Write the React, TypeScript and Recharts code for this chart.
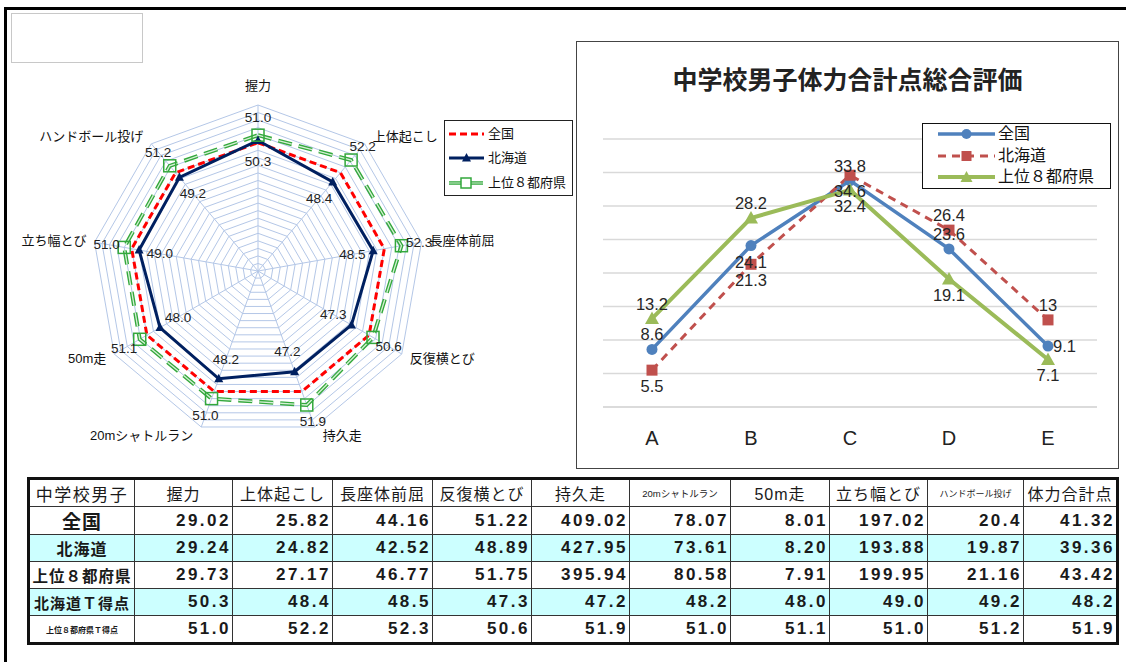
import React from 'react'
import {
  RadarChart,
  Radar,
  PolarGrid,
  PolarAngleAxis,
  PolarRadiusAxis,
  LineChart,
  Line,
  XAxis,
  YAxis,
  CartesianGrid,
} from 'recharts'

const FONT = '"Liberation Sans", "Noto Sans CJK JP", sans-serif'

// 種目
const events = ['握力', '上体起こし', '長座体前屈', '反復横とび', '持久走', '20mシャトルラン', '50m走', '立ち幅とび', 'ハンドボール投げ']
const totalColumn = '体力合計点'

// 実測値（表）
const zenkokuRaw = ['29.02', '25.82', '44.16', '51.22', '409.02', '78.07', '8.01', '197.02', '20.4', '41.32']
const hokkaidoRaw = ['29.24', '24.82', '42.52', '48.89', '427.95', '73.61', '8.20', '193.88', '19.87', '39.36']
const top8Raw = ['29.73', '27.17', '46.77', '51.75', '395.94', '80.58', '7.91', '199.95', '21.16', '43.42']

// T得点（全国=50）
const zenkokuT = [50, 50, 50, 50, 50, 50, 50, 50, 50]
const hokkaidoT = [50.3, 48.4, 48.5, 47.3, 47.2, 48.2, 48.0, 49.0, 49.2, 48.2]
const top8T = [51.0, 52.2, 52.3, 50.6, 51.9, 51.0, 51.1, 51.0, 51.2, 51.9]

// 総合評価 A〜E の割合
const grades = ['A', 'B', 'C', 'D', 'E']
const gradeZenkoku = [8.6, 24.1, 33.8, 23.6, 9.1]
const gradeHokkaido = [5.5, 21.3, 34.6, 26.4, 13]
const gradeTop8 = [13.2, 28.2, 32.4, 19.1, 7.1]
const gradeTicks = [0, 5, 10, 15, 20, 25, 30, 35, 40]

// データラベルの位置（上/下/右）
const placeZenkoku = ['top', 'bottom', 'top', 'top', 'right']
const placeHokkaido = ['bottom', 'bottom', 'bottom', 'top', 'top']
const placeTop8 = ['top', 'top', 'bottom', 'bottom', 'bottom']

const radarData = events.map((name, i) => ({
  name,
  zenkoku: zenkokuT[i],
  hokkaido: hokkaidoT[i],
  top8: top8T[i],
}))

const lineData = grades.map((grade, i) => ({
  grade,
  zenkoku: gradeZenkoku[i],
  hokkaido: gradeHokkaido[i],
  top8: gradeTop8[i],
}))

const RCX = 258
const RCY = 200
const RR = 166

const RED = '#ff0000'
const NAVY = '#002060'
const GREEN = '#33a83c'
const BLUE = '#4f81bd'
const BRICK = '#c0504d'
const OLIVE = '#9bbb59'

function radarLabel(offset: number) {
  return (p: any) => {
    const x = p.x ?? p.viewBox?.x
    const y = p.y ?? p.viewBox?.y
    const dx = x - RCX
    const dy = y - RCY
    const len = Math.hypot(dx, dy) || 1
    return (
      <text
        key={`rl-${p.index}`}
        x={x + (dx / len) * offset}
        y={y + (dy / len) * offset}
        textAnchor="middle"
        dominantBaseline="central"
        fontSize={13.5}
        fill="#222"
        fontFamily={FONT}
      >
        {Number(p.value).toFixed(1)}
      </text>
    )
  }
}

function AngleTick(p: any) {
  const dx = p.x - RCX
  const dy = p.y - RCY
  const len = Math.hypot(dx, dy) || 1
  const ux = dx / len
  const uy = dy / len
  const ex = RCX + ux * RR
  const ey = RCY + uy * RR
  const mid = Math.abs(ux) < 0.1
  const anchor = mid ? 'middle' : ux > 0 ? 'start' : 'end'
  const lx = mid ? ex : ex + Math.sign(ux) * 8
  const ly = ey + uy * (mid ? 20 : 9)
  return (
    <text x={lx} y={ly} textAnchor={anchor} dominantBaseline="central" fontSize={13} fill="#111" fontFamily={FONT}>
      {p.payload.value}
    </text>
  )
}

const navyTriangle = (p: any) => (
  <polygon
    key={`nt-${p.index}`}
    points={`${p.cx},${p.cy - 5} ${p.cx - 4.5},${p.cy + 3.5} ${p.cx + 4.5},${p.cy + 3.5}`}
    fill={NAVY}
  />
)

const greenSquare = (p: any) => (
  <rect key={`gs-${p.index}`} x={p.cx - 6} y={p.cy - 6} width={12} height={12} fill="none" stroke={GREEN} strokeWidth={1.5} />
)

function lineLabel(places: string[]) {
  return (p: any) => {
    const place = places[p.index]
    let lx = p.x
    let ly = p.y
    let anchor = 'middle'
    if (place === 'top') ly = p.y - 15
    else if (place === 'bottom') ly = p.y + 16
    else {
      lx = p.x + 5
      anchor = 'start'
    }
    return (
      <text
        key={`ll-${p.index}`}
        x={lx}
        y={ly}
        textAnchor={anchor}
        dominantBaseline="central"
        fontSize={16.5}
        fill="#262626"
        fontFamily={FONT}
      >
        {p.value}
      </text>
    )
  }
}

const circleDot = (p: any) => <circle key={`cd-${p.index}`} cx={p.cx} cy={p.cy} r={5.5} fill={BLUE} />
const squareDot = (p: any) => <rect key={`sd-${p.index}`} x={p.cx - 5.5} y={p.cy - 5.5} width={11} height={11} fill={BRICK} />
const triangleDot = (p: any) => (
  <polygon key={`td-${p.index}`} points={`${p.cx},${p.cy - 7} ${p.cx - 7},${p.cy + 5.5} ${p.cx + 7},${p.cy + 5.5}`} fill={OLIVE} />
)

function RadarLegend() {
  const row = (y: number) => ({ position: 'absolute' as const, left: 43, top: y - 9, fontSize: 13, lineHeight: '18px', color: '#111' })
  return (
    <div style={{ position: 'absolute', left: 444, top: 120, width: 127, height: 74, border: '1px solid #222', background: '#fff' }}>
      <svg width={42} height={74} style={{ position: 'absolute', left: 0, top: 0 }}>
        <line x1={4} y1={13} x2={39} y2={13} stroke={RED} strokeWidth={3} strokeDasharray="7 4" />
        <line x1={4} y1={37} x2={39} y2={37} stroke={NAVY} strokeWidth={3} />
        <polygon points="21.5,32 17,40.5 26,40.5" fill={NAVY} />
        <line x1={4} y1={62} x2={39} y2={62} stroke={GREEN} strokeWidth={3.5} strokeDasharray="14 6" />
        <line x1={4} y1={62} x2={39} y2={62} stroke="#d6f0d6" strokeWidth={1.2} strokeDasharray="14 6" />
        <rect x={16} y={57} width={10} height={10} fill="#fff" stroke={GREEN} strokeWidth={1.5} />
      </svg>
      <div style={row(13)}>全国</div>
      <div style={row(37)}>北海道</div>
      <div style={row(62)}>上位８都府県</div>
    </div>
  )
}

function GradeLegend() {
  const row = (y: number) => ({ position: 'absolute' as const, left: 75, top: y - 11, fontSize: 16, lineHeight: '22px', color: '#111' })
  return (
    <div style={{ position: 'absolute', left: 922, top: 123, width: 187, height: 64, border: '1.5px solid #111', background: '#fff' }}>
      <svg width={76} height={64} style={{ position: 'absolute', left: 0, top: 0 }}>
        <line x1={15} y1={10} x2={72} y2={10} stroke={BLUE} strokeWidth={3.5} />
        <circle cx={43.5} cy={10} r={5} fill={BLUE} />
        <line x1={15} y1={32} x2={72} y2={32} stroke={BRICK} strokeWidth={3} strokeDasharray="8 6" />
        <rect x={38.5} y={27} width={10} height={10} fill={BRICK} />
        <line x1={15} y1={53} x2={72} y2={53} stroke={OLIVE} strokeWidth={4} />
        <polygon points="43.5,47 37.5,58 49.5,58" fill={OLIVE} />
      </svg>
      <div style={row(10)}>全国</div>
      <div style={row(32)}>北海道</div>
      <div style={row(53)}>上位８都府県</div>
    </div>
  )
}

const colWidths = [106, 98, 100, 100, 99, 98, 101, 99, 98, 96, 94]

function ScoreTable() {
  const headers = [...events, totalColumn]
  const headerSize = (h: string) => (h === '20mシャトルラン' ? 9.5 : h === 'ハンドボール投げ' ? 9 : 16)
  const rows = [
    { name: '全国', size: 19, cyan: false, cells: zenkokuRaw },
    { name: '北海道', size: 16, cyan: true, cells: hokkaidoRaw },
    { name: '上位８都府県', size: 15.5, cyan: false, cells: top8Raw },
    { name: '北海道Ｔ得点', size: 15, cyan: true, cells: hokkaidoT.map((v) => v.toFixed(1)) },
    { name: '上位８都府県Ｔ得点', size: 8, cyan: false, cells: top8T.map((v) => v.toFixed(1)) },
  ]
  const cell = { border: '1px solid #333', padding: 0, height: 26, overflow: 'hidden', whiteSpace: 'nowrap' as const }
  return (
    <table
      style={{
        position: 'absolute',
        left: 27,
        top: 477,
        width: 1091,
        tableLayout: 'fixed',
        borderCollapse: 'collapse',
        border: '3px solid #111',
        fontFamily: FONT,
        color: '#1a1a1a',
      }}
    >
      <colgroup>
        {colWidths.map((w, i) => (
          <col key={i} style={{ width: w }} />
        ))}
      </colgroup>
      <tbody>
        <tr>
          <td style={{ ...cell, textAlign: 'center', fontSize: 17, letterSpacing: 1.5 }}>中学校男子</td>
          {headers.map((h) => (
            <td key={h} style={{ ...cell, textAlign: 'center', fontSize: headerSize(h), letterSpacing: headerSize(h) > 10 ? 1 : 0 }}>
              {h}
            </td>
          ))}
        </tr>
        {rows.map((r) => (
          <tr key={r.name} style={{ background: r.cyan ? '#ccffff' : '#fff' }}>
            <td style={{ ...cell, textAlign: 'center', fontSize: r.size, fontWeight: 700, letterSpacing: r.size > 10 ? 1 : 0 }}>
              {r.name}
            </td>
            {r.cells.map((v, i) => (
              <td key={i} style={{ ...cell, textAlign: 'right', fontSize: 17, fontWeight: 700, letterSpacing: 2.5, paddingRight: 1 }}>
                {v}
              </td>
            ))}
          </tr>
        ))}
      </tbody>
    </table>
  )
}

export default function App() {
  return (
    <div style={{ position: 'absolute', left: 0, top: 0, width: 1126, height: 662, background: '#fff', fontFamily: FONT, overflow: 'hidden' }}>
      {/* 外枠 */}
      <div
        style={{
          position: 'absolute',
          left: 4,
          top: 7,
          width: 1119,
          height: 660,
          borderTop: '3px solid #000',
          borderLeft: '3px solid #000',
          borderRight: '1px solid #888',
        }}
      />
      <div style={{ position: 'absolute', left: 11, top: 13, width: 130, height: 48, border: '1px solid #c8c8c8' }} />

      {/* T得点レーダー */}
      <div style={{ position: 'absolute', left: 0, top: 71 }}>
        <RadarChart width={560} height={400} data={radarData} cx={RCX} cy={RCY} outerRadius={RR} margin={{ top: 0, right: 0, bottom: 0, left: 0 }}>
          <PolarGrid gridType="polygon" stroke="#b4c7e7" strokeWidth={1} />
          <PolarRadiusAxis domain={[33, 55]} tickCount={23} tick={false} axisLine={false} />
          <PolarAngleAxis dataKey="name" tick={AngleTick} tickLine={false} axisLine={false} />
          <Radar dataKey="zenkoku" stroke={RED} strokeWidth={3} strokeDasharray="7 4" fill="none" dot={false} isAnimationActive={false} />
          <Radar
            dataKey="hokkaido"
            stroke={NAVY}
            strokeWidth={3}
            fill="none"
            dot={navyTriangle}
            label={radarLabel(-21)}
            isAnimationActive={false}
          />
          <Radar
            dataKey="top8"
            stroke={GREEN}
            strokeWidth={4}
            strokeDasharray="14 7"
            fill="none"
            dot={false}
            label={radarLabel(18)}
            isAnimationActive={false}
          />
          <Radar dataKey="top8" stroke="#d6f0d6" strokeWidth={1.3} strokeDasharray="14 7" fill="none" dot={greenSquare} isAnimationActive={false} />
        </RadarChart>
      </div>
      <RadarLegend />

      {/* 総合評価の折れ線 */}
      <div style={{ position: 'absolute', left: 576, top: 41, width: 541, height: 426, border: '1px solid #444' }} />
      <div
        style={{
          position: 'absolute',
          left: 576,
          top: 65,
          width: 543,
          textAlign: 'center',
          fontSize: 25,
          lineHeight: '26px',
          fontWeight: 700,
          color: '#222',
          fontFamily: '"Noto Sans CJK JP", sans-serif',
        }}
      >
        中学校男子体力合計点総合評価
      </div>
      <div style={{ position: 'absolute', left: 577, top: 42 }}>
        <LineChart width={540} height={425} data={lineData} margin={{ top: 97, right: 20, bottom: 30, left: 26 }}>
          <CartesianGrid vertical={false} stroke="#d9d9d9" strokeWidth={1.5} />
          <XAxis
            dataKey="grade"
            padding={{ left: 49, right: 49 }}
            axisLine={{ stroke: '#d9d9d9', strokeWidth: 1.5 }}
            tickLine={false}
            tickSize={0}
            tickMargin={24}
            height={30}
            tick={{ fontSize: 20, fill: '#222', fontFamily: FONT }}
          />
          <YAxis hide width={0} domain={[0, 40]} ticks={gradeTicks} />
          <Line
            dataKey="zenkoku"
            stroke={BLUE}
            strokeWidth={3.5}
            dot={circleDot}
            label={lineLabel(placeZenkoku)}
            isAnimationActive={false}
          />
          <Line
            dataKey="hokkaido"
            stroke={BRICK}
            strokeWidth={3}
            strokeDasharray="8 6"
            dot={squareDot}
            label={lineLabel(placeHokkaido)}
            isAnimationActive={false}
          />
          <Line
            dataKey="top8"
            stroke={OLIVE}
            strokeWidth={4}
            dot={triangleDot}
            label={lineLabel(placeTop8)}
            isAnimationActive={false}
          />
        </LineChart>
      </div>
      <GradeLegend />

      <ScoreTable />
    </div>
  )
}
